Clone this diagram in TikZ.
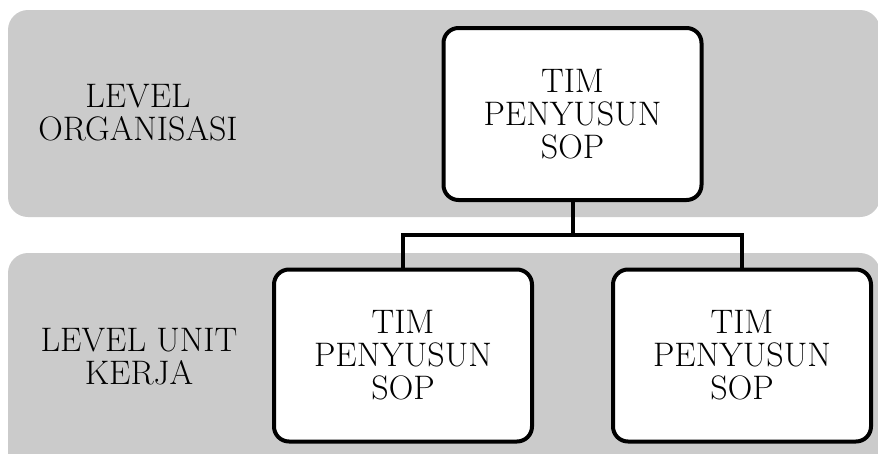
\documentclass[tikz,border=0pt]{standalone}
\usepackage{fontspec}
\definecolor{bandgray}{RGB}{203,203,203}
\tikzset{
  band/.style={fill=bandgray, rounded corners=20pt},
  teambox/.style={draw=black, fill=white, line width=4pt, rounded corners=15pt,
    minimum width=258pt, minimum height=172pt, align=center,
    font=\fontsize{34}{33}\selectfont, inner sep=0pt},
  lvl/.style={align=center, font=\fontsize{34}{33}\selectfont, inner sep=0pt},
  conn/.style={draw=black, line width=4pt, line join=miter}
}
\begin{document}
\begin{tikzpicture}[x=1pt,y=-1pt]
\clip (0,0) rectangle (878,453);
\fill[band] (8,10) rectangle (880,217);
\fill[band] (8,253) rectangle (880,480);
\node[teambox] (top) at (572.5,114) {TIM\\PENYUSUN\\SOP};
\node[teambox] (left) at (403,355.5) {TIM\\PENYUSUN\\SOP};
\node[teambox] (right) at (742,355.5) {TIM\\PENYUSUN\\SOP};
\coordinate (bar) at (572,235);
\draw[conn] (top.south) -- (top.south |- bar);
\draw[conn] (left.north) |- (bar) -| (right.north);
\node[lvl] (lorg) at (138,113) {LEVEL\\ORGANISASI};
\node[lvl] (lunit) at (139,357) {LEVEL UNIT\\KERJA};
\end{tikzpicture}
\end{document}
